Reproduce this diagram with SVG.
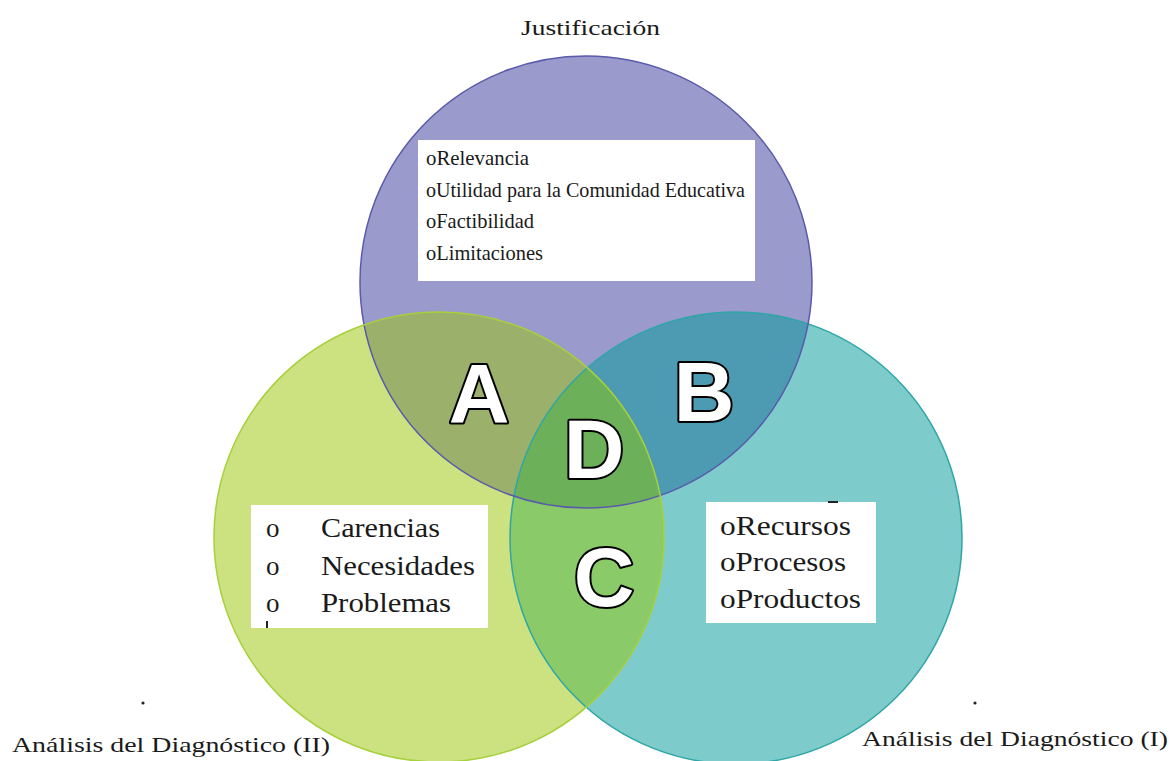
<svg xmlns="http://www.w3.org/2000/svg" width="1175" height="761" viewBox="0 0 1175 761">
<style>
.serif{font-family:"Liberation Serif","Times New Roman",serif;fill:#1a1a1a}
.big{font-family:"Liberation Sans",Arial,sans-serif;font-weight:bold;font-size:84px;fill:#fff;stroke:#000;stroke-width:4;paint-order:stroke;stroke-linejoin:round}
.box{fill:#fff}
</style>
<defs>
<clipPath id="cT"><circle cx="586" cy="282" r="226"/></clipPath>
<clipPath id="cL"><circle cx="439" cy="537" r="225"/></clipPath>
<clipPath id="cR"><circle cx="736" cy="538" r="226"/></clipPath>
</defs>
<rect width="1175" height="761" fill="#fff"/>
<g id="circles">
<circle cx="439" cy="537" r="225" fill="#cce281"/>
<circle cx="736" cy="538" r="226" fill="#7ecbcb"/>
<circle cx="586" cy="282" r="226" fill="#9a9acc"/>
<g clip-path="url(#cT)"><circle cx="439" cy="537" r="225" fill="#9bb06a"/><circle cx="736" cy="538" r="226" fill="#4c9bb2"/></g>
<g clip-path="url(#cL)"><circle cx="736" cy="538" r="226" fill="#8aca68"/></g>
<g clip-path="url(#cL)"><g clip-path="url(#cR)"><circle cx="586" cy="282" r="226" fill="#6db05a"/></g></g>
<circle cx="736" cy="538" r="226" fill="none" stroke="#2fa6a6" stroke-width="1.5"/>
<circle cx="586" cy="282" r="226" fill="none" stroke="#5a5aab" stroke-width="1.5"/>
<circle cx="439" cy="537" r="225" fill="none" stroke="#a6d03c" stroke-width="1.5"/>
</g>
<g id="top-box">
<rect class="box" x="418" y="140" width="337" height="141"/>
<text class="serif" font-size="21"><tspan x="426" y="165" textLength="103" lengthAdjust="spacingAndGlyphs">oRelevancia</tspan><tspan x="426" y="197" textLength="319" lengthAdjust="spacingAndGlyphs">oUtilidad para la Comunidad Educativa</tspan><tspan x="426" y="228" textLength="108" lengthAdjust="spacingAndGlyphs">oFactibilidad</tspan><tspan x="426" y="260" textLength="117" lengthAdjust="spacingAndGlyphs">oLimitaciones</tspan></text>
</g>
<g id="left-box">
<rect class="box" x="251" y="505" width="237" height="123"/>
<text class="serif" font-size="27"><tspan x="266" y="537">o</tspan><tspan x="321" y="537" textLength="119" lengthAdjust="spacingAndGlyphs">Carencias</tspan><tspan x="266" y="575">o</tspan><tspan x="321" y="575" textLength="154" lengthAdjust="spacingAndGlyphs">Necesidades</tspan><tspan x="266" y="612">o</tspan><tspan x="321" y="612" textLength="130" lengthAdjust="spacingAndGlyphs">Problemas</tspan></text>
<rect x="266" y="621" width="2" height="7" fill="#222"/>
</g>
<g id="right-box">
<rect class="box" x="706" y="502" width="170" height="121"/>
<rect x="828" y="501" width="10" height="2" fill="#222"/>
<text class="serif" font-size="27"><tspan x="720" y="535" textLength="131" lengthAdjust="spacingAndGlyphs">oRecursos</tspan><tspan x="720" y="571" textLength="126" lengthAdjust="spacingAndGlyphs">oProcesos</tspan><tspan x="720" y="608" textLength="141" lengthAdjust="spacingAndGlyphs">oProductos</tspan></text>
</g>
<g id="letters">
<text class="big" x="479" y="423" text-anchor="middle">A</text>
<text class="big" x="704" y="421" text-anchor="middle">B</text>
<text class="big" x="594" y="478" text-anchor="middle">D</text>
<text class="big" x="604" y="606" text-anchor="middle">C</text>
</g>
<g id="labels">
<text class="serif" font-size="22" x="521" y="35" textLength="139" lengthAdjust="spacingAndGlyphs">Justificación</text>
<text class="serif" font-size="22" x="12" y="752" textLength="318" lengthAdjust="spacingAndGlyphs">Análisis del Diagnóstico (II)</text>
<text class="serif" font-size="22" x="862" y="746" textLength="306" lengthAdjust="spacingAndGlyphs">Análisis del Diagnóstico (I)</text>
<circle cx="143" cy="703" r="1.6" fill="#222"/>
<circle cx="975" cy="703" r="1.6" fill="#222"/>
</g>
</svg>
